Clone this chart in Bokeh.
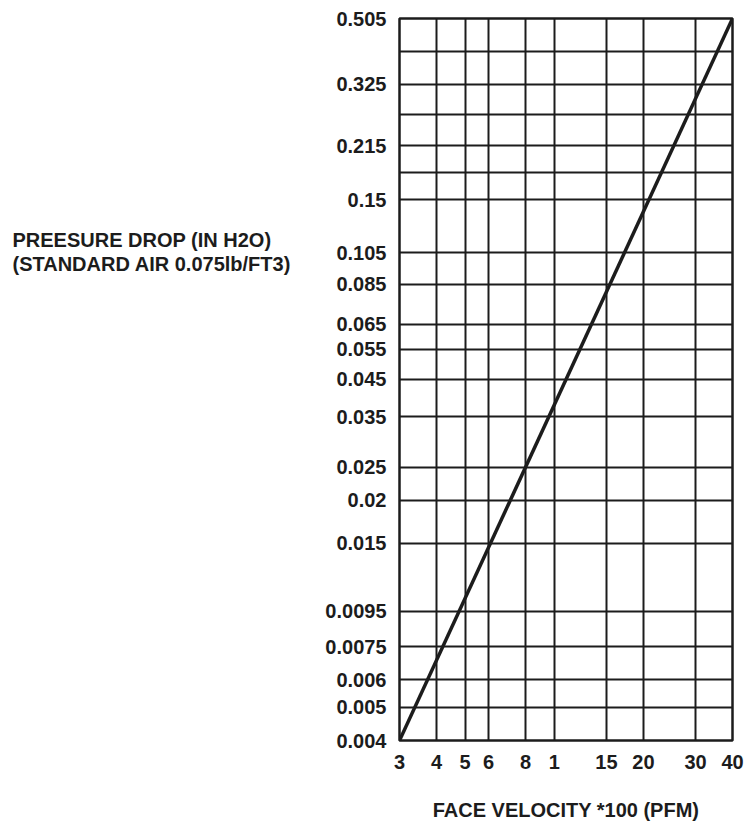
from bokeh.plotting import figure
from bokeh.layouts import row
from bokeh.models import FixedTicker, Range1d
from bokeh.core.properties import value
from bokeh.embed import file_html
from bokeh.resources import INLINE

# ---- data ----
x_tick_values = [3, 4, 5, 6, 8, 10, 15, 20, 30, 40]
x_tick_labels = ["3", "4", "5", "6", "8", "1", "15", "20", "30", "40"]
y_tick_values = [0.004, 0.005, 0.006, 0.0075, 0.0095, 0.015, 0.02, 0.025,
                 0.035, 0.045, 0.055, 0.065, 0.085, 0.105, 0.15, 0.215,
                 0.325, 0.505]
y_tick_labels = ["0.004", "0.005", "0.006", "0.0075", "0.0095", "0.015",
                 "0.02", "0.025", "0.035", "0.045", "0.055", "0.065",
                 "0.085", "0.105", "0.15", "0.215", "0.325", "0.505"]
y_extra_grid = [0.18, 0.265, 0.405]
velocity = [3, 40]
pressure_drop = [0.004, 0.505]
y_title_lines = ["PREESURE DROP (IN H2O)", "(STANDARD AIR 0.075lb/FT3)"]
x_title = "FACE VELOCITY *100 (PFM)"

FONT = "Liberation Sans"
INK = "#1c1c1c"
FS = "20px"
H = 823
LEFT_W = 300

# ---- left panel holding the horizontal y-axis title ----
t = figure(width=LEFT_W, height=H, x_range=Range1d(0, LEFT_W), y_range=Range1d(H, 0),
           output_backend="svg", toolbar_location=None,
           min_border=0)
t.axis.visible = False
t.grid.visible = False
t.outline_line_color = None
t.background_fill_color = "white"
t.border_fill_color = "white"
t.text(x=[12, 12], y=[253, 280], text=y_title_lines,
       text_font=value(FONT), text_font_style="bold", text_font_size=FS,
       text_color=INK, text_baseline="alphabetic", text_align="left")

# ---- main chart ----
p = figure(width=744 - LEFT_W, height=H, x_axis_type="log", y_axis_type="log",
           x_range=Range1d(3, 40), y_range=Range1d(0.004, 0.505),
           output_backend="svg", toolbar_location=None,
           min_border_left=99, min_border_top=18, min_border_right=12,
           min_border_bottom=81)
p.background_fill_color = "white"
p.border_fill_color = "white"
p.outline_line_color = INK
p.outline_line_width = 2.5

p.xaxis.ticker = FixedTicker(ticks=x_tick_values)
p.yaxis.ticker = FixedTicker(ticks=y_tick_values)
p.xaxis.major_label_overrides = {float(v): l for v, l in zip(x_tick_values, x_tick_labels)}
p.yaxis.major_label_overrides = {float(v): l for v, l in zip(y_tick_values, y_tick_labels)}

for ax in (p.xaxis, p.yaxis):
    ax.axis_line_color = None
    ax.major_tick_line_color = None
    ax.minor_tick_line_color = None
    ax.major_tick_out = 0
    ax.major_tick_in = 0
    ax.minor_tick_out = 0
    ax.minor_tick_in = 0
    ax.major_label_text_font = FONT
    ax.major_label_text_font_style = "bold"
    ax.major_label_text_font_size = FS
    ax.major_label_text_color = INK

p.yaxis.major_label_standoff = 13
p.xaxis.major_label_standoff = 14

p.xaxis.axis_label = x_title
p.xaxis.axis_label_text_font = FONT
p.xaxis.axis_label_text_font_style = "bold"
p.xaxis.axis_label_text_font_size = FS
p.xaxis.axis_label_text_color = INK
p.xaxis.axis_label_standoff = 27

p.xgrid.ticker = FixedTicker(ticks=x_tick_values)
p.ygrid.ticker = FixedTicker(ticks=sorted(y_tick_values + y_extra_grid))
for g in (p.xgrid, p.ygrid):
    g.grid_line_color = INK
    g.grid_line_width = 2
    g.minor_grid_line_color = None

p.line(velocity, pressure_drop, line_color=INK, line_width=3.5)

layout = row(t, p, spacing=0)
open("out.html", "w").write(file_html(layout, INLINE))
